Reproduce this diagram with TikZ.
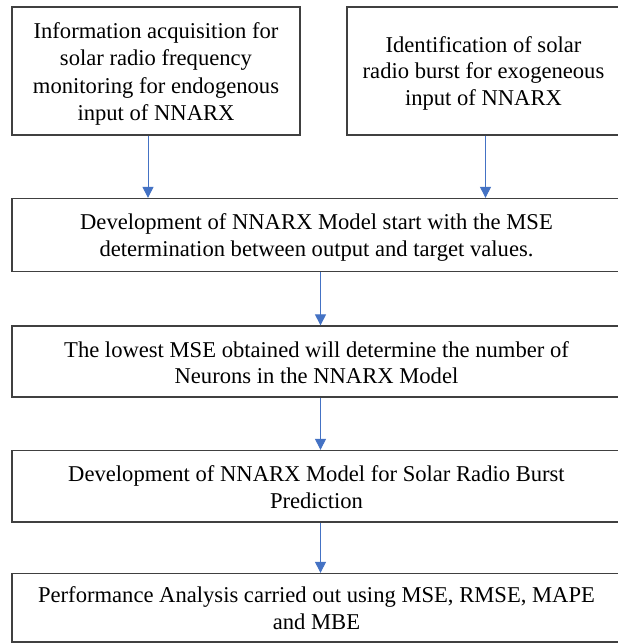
\documentclass[tikz,border=0pt]{standalone}
\usepackage{fontspec}
\setmainfont{Liberation Serif}
\usetikzlibrary{arrows.meta}
\definecolor{boxgray}{HTML}{404040}
\definecolor{arrblue}{HTML}{4472C4}
\newcommand\ws{\rule[-4.4pt]{0pt}{25.9pt}}
\begin{document}
\begin{tikzpicture}[x=1pt,y=-1pt,
  box/.style={draw=boxgray, line width=1.3pt, inner sep=0pt, align=center,
    font=\fontsize{22.6}{25.9}\selectfont},
  arr/.style={draw=arrblue, line width=1pt, -{Triangle[length=11pt,width=11pt]}}]
\useasboundingbox (0,0) rectangle (618,643);
\fill[white] (0,0) rectangle (618,643);
\clip (0,0) rectangle (618,643);
\node[box, minimum width=288pt, minimum height=128pt] (b1) at (156,71)
  {\ws Information acquisition for\\\ws solar radio frequency\\\ws monitoring for endogenous\\\ws input of NNARX};
\node[box, minimum width=273pt, minimum height=128pt] (b2) at (483.5,71)
  {\ws Identification of solar\\\ws radio burst for exogeneous\\\ws input of NNARX};
\node[box, minimum width=609pt, minimum height=73pt] (b3) at (316.5,235)
  {\ws Development of NNARX Model start with the MSE\\\ws determination between output and target values.};
\node[box, minimum width=609pt, minimum height=71pt] (b4) at (316.5,361.5)
  {\ws The lowest MSE obtained will determine the number of\\\ws Neurons in the NNARX Model};
\node[box, minimum width=609pt, minimum height=71.5pt] (b5) at (316.5,486.25)
  {\ws Development of NNARX Model for Solar Radio Burst\\\ws Prediction};
\node[box, minimum width=609pt, minimum height=68.5pt] (b6) at (316.5,607.75)
  {\ws Performance Analysis carried out using MSE, RMSE, MAPE\\\ws and MBE};
\draw[arr] ([xshift=-8pt]b1.south) -- ([xshift=-8pt]b1.south |- b3.north);
\draw[arr] ([xshift=2pt]b2.south) -- ([xshift=2pt]b2.south |- b3.north);
\draw[arr] ([xshift=4pt]b3.south) -- ([xshift=4pt]b3.south |- b4.north);
\draw[arr] ([xshift=4pt]b4.south) -- ([xshift=4pt]b4.south |- b5.north);
\draw[arr] ([xshift=4pt]b5.south) -- ([xshift=4pt]b5.south |- b6.north);
\end{tikzpicture}
\end{document}
